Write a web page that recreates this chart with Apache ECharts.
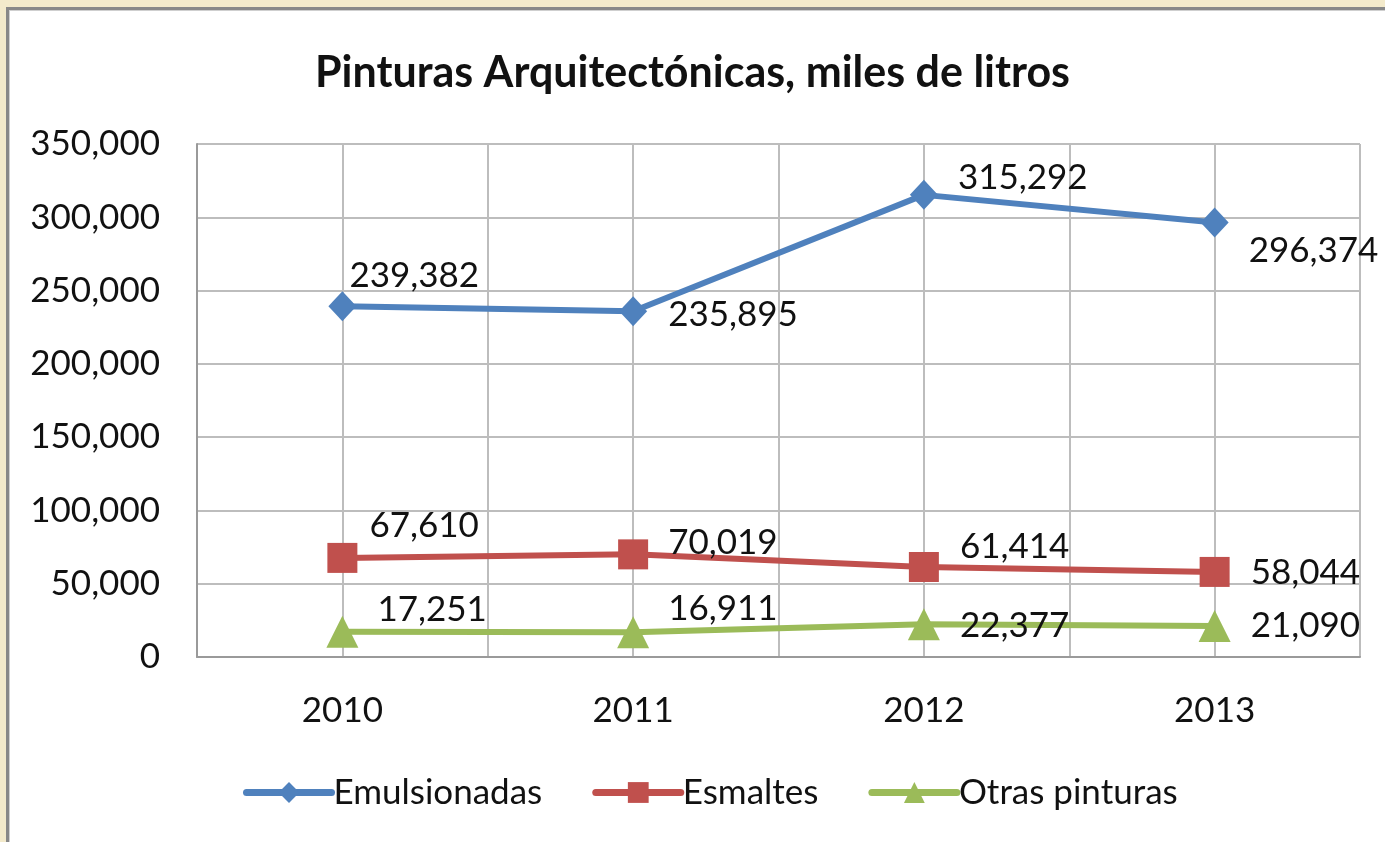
<!DOCTYPE html>
<html>
<head>
<meta charset="utf-8">
<script src="https://cdn.jsdelivr.net/npm/echarts@6/dist/echarts.min.js"></script>
<style>
html,body{margin:0;padding:0;width:1385px;height:842px;overflow:hidden;background:#f3eacb;}
#frame{position:absolute;left:6px;top:7px;width:1400px;height:860px;background:#fff;border-left:3px solid #888;border-top:3px solid #888;box-shadow:inset 1px 1px 0 #cfcfcf;}
#chart{position:absolute;left:0;top:0;width:1385px;height:842px;}
</style>
</head>
<body>
<div id="frame"></div>
<div id="chart"></div>
<script>
const categories = ['2010', '2011', '2012', '2013'];
const emulsionadas = [239382, 235895, 315292, 296374];
const esmaltes = [67610, 70019, 61414, 58044];
const otras = [17251, 16911, 22377, 21090];
const yTicks = [0, 50000, 100000, 150000, 200000, 250000, 300000, 350000];

const emulOffsets = [[-7, -30], [21, 3], [20, -17], [20, 28]];
const esmOffsets = [[12, -32], [20, -12], [21, -20], [21, 1]];
const otrasOffsets = [[19, -22], [19, -23], [20, 2], [20, 0]];

const FONT = 'Lato';
const fmt = v => v.toLocaleString('en-US');

function mkData(vals, offs) {
  return vals.map((v, i) => ({
    value: v,
    label: { offset: offs[i] }
  }));
}

function mkSeries(name, vals, offs, color, symbol, size) {
  return {
    name: name,
    type: 'line',
    xAxisIndex: 0,
    data: mkData(vals, offs),
    symbol: symbol,
    symbolSize: size,
    lineStyle: { color: color, width: 6 },
    itemStyle: { color: color },
    label: {
      show: true,
      position: 'right',
      distance: 0,
      fontFamily: FONT,
      fontSize: 35,
      color: '#111',
      formatter: p => fmt(p.value)
    },
    emphasis: { disabled: true },
    animation: false
  };
}

const chart = echarts.init(document.getElementById('chart'), null, { renderer: 'canvas' });
chart.setOption({
  backgroundColor: 'transparent',
  animation: false,
  title: {
    text: 'Pinturas Arquitectónicas, miles de litros',
    left: 'center',
    top: 47,
    textStyle: { fontFamily: FONT, fontWeight: 'bold', fontSize: 43, color: '#111' }
  },
  grid: { left: 197, top: 144, right: 25, bottom: 185, containLabel: false },
  legend: {
    left: 238,
    top: 770,
    itemWidth: 85,
    itemHeight: 26,
    itemGap: 50,
    lineStyle: { width: 7, cap: 'round' },
    textStyle: { fontFamily: FONT, fontSize: 35, color: '#111', padding: [0, 0, 0, -3] },
    data: ['Emulsionadas', 'Esmaltes', 'Otras pinturas']
  },
  xAxis: [
    {
      type: 'category',
      data: categories,
      boundaryGap: true,
      axisLine: { show: true, lineStyle: { color: '#9a9a9a', width: 2 } },
      axisTick: { show: false },
      splitLine: { show: false },
      axisLabel: { fontFamily: FONT, fontSize: 35, color: '#111', margin: 36 }
    },
    {
      type: 'value',
      min: 0,
      max: 8,
      interval: 1,
      position: 'bottom',
      show: true,
      axisLine: { show: false },
      axisTick: { show: false },
      axisLabel: { show: false },
      splitLine: { show: true, lineStyle: { color: '#bdbdbd', width: 2 } }
    }
  ],
  yAxis: {
    type: 'value',
    min: yTicks[0],
    max: yTicks[yTicks.length - 1],
    interval: yTicks[1] - yTicks[0],
    axisLine: { show: true, lineStyle: { color: '#9a9a9a', width: 2 } },
    axisTick: { show: false },
    splitLine: { show: true, lineStyle: { color: '#bdbdbd', width: 2 } },
    axisLabel: { fontFamily: FONT, fontSize: 35, color: '#111', margin: 37, formatter: v => fmt(v) }
  },
  series: [
    mkSeries('Emulsionadas', emulsionadas, emulOffsets, '#4f81bd', 'diamond', [28, 30]),
    mkSeries('Esmaltes', esmaltes, esmOffsets, '#c0504d', 'rect', 30),
    mkSeries('Otras pinturas', otras, otrasOffsets, '#9bbb59', 'triangle', 32)
  ]
});
</script>
</body>
</html>
